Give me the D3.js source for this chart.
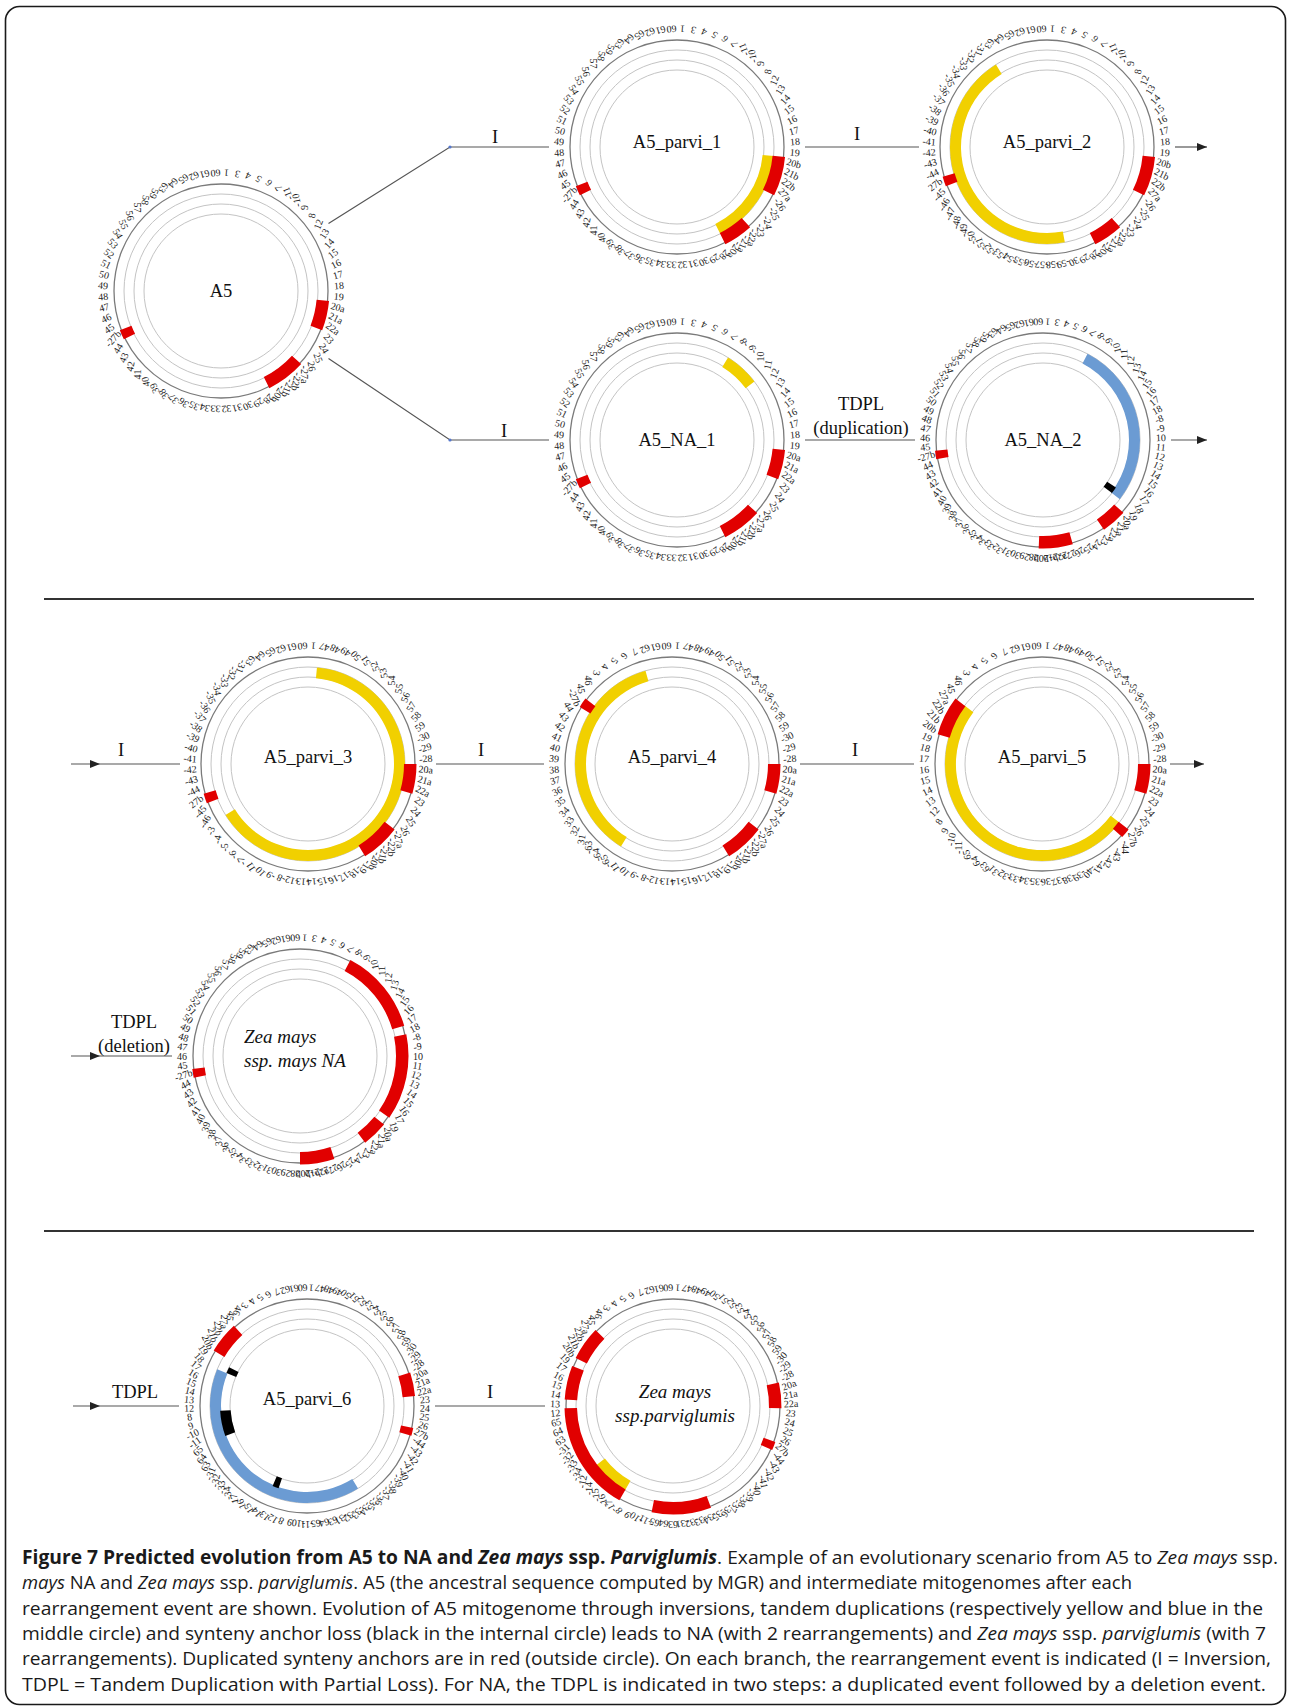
<!DOCTYPE html>
<html><head><meta charset="utf-8">
<script src="https://cdn.jsdelivr.net/npm/d3@7"></script>
<style>
html,body{margin:0;padding:0;background:#fff;}
svg{display:block;}
</style></head><body>
<svg id="fig" width="1290" height="1707"></svg>
<script>
// ---- Synteny anchor order of each mitogenome, clockwise from the top ----
const A5_LABELS = ["1","3","4","5","6","7","-11","-10","9","8","12","13","14","15","16","17","18","19","20a","21a","22a","23","24","25","26","-27a","-22b","-21b","-20b","28","29","30","31","32","33","34","35","36","37","38","39","40","41","42","43","44","-27b","45","46","47","48","49","50","51","52","53","54","55","56","57","58","59","63","64","65","62","61","60"];
const PARVI1_LABELS = ["1","3","4","5","6","7","-11","-10","9","8","12","13","14","15","16","17","18","19","20b","21b","22b","27a","-26","-25","-24","-23","-22a","-21a","-20a","28","29","30","31","32","33","34","35","36","37","38","39","40","41","42","43","44","-27b","45","46","47","48","49","50","51","52","53","54","55","56","57","58","59","63","64","65","62","61","60"];
const PARVI2_LABELS = ["1","3","4","5","6","7","-11","-10","9","8","12","13","14","15","16","17","18","19","20b","21b","22b","27a","-26","-25","-24","-23","-22a","-21a","-20a","28","29","30","-59","-58","-57","-56","-55","-54","-53","-52","-51","-50","-49","-48","-47","-46","-45","27b","-44","-43","-42","-41","-40","-39","-38","-37","-36","-35","-34","-33","-32","-31","63","64","65","62","61","60"];
const PARVI3_LABELS = ["1","47","48","49","50","51","52","53","54","55","56","57","58","59","-30","-29","-28","20a","21a","22a","23","24","25","26","-27a","-22b","-21b","-20b","-19","-18","-17","-16","-15","-14","-13","-12","-8","-9","10","11","-7","-6","-5","-4","-3","-46","-45","27b","-44","-43","-42","-41","-40","-39","-38","-37","-36","-35","-34","-33","-32","-31","63","64","65","62","61","60"];
const PARVI4_LABELS = ["1","47","48","49","50","51","52","53","54","55","56","57","58","59","-30","-29","-28","20a","21a","22a","23","24","25","26","-27a","-22b","-21b","-20b","-19","-18","-17","-16","-15","-14","-13","-12","-8","-9","10","11","-65","-64","-63","31","32","33","34","35","36","37","38","39","40","41","42","43","44","-27b","45","46","3","4","5","6","7","62","61","60"];
const PARVI5_LABELS = ["1","47","48","49","50","51","52","53","54","55","56","57","58","59","-30","-29","-28","20a","21a","22a","23","24","25","26","27b","-44","-43","-42","-41","-40","-39","-38","-37","-36","-35","-34","-33","-32","-31","63","64","65","-11","-10","9","8","12","13","14","15","16","17","18","19","20b","21b","22b","27a","45","46","3","4","5","6","7","62","61","60"];
const PARVI6_LABELS = ["1","47","48","49","50","51","52","53","54","55","56","57","58","59","-30","-29","-28","20a","21a","22a","23","24","25","26","27b","-44","-43","-42","-41","-40","-39","-38","-37","-36","-35","-34","-33","-32","-31","63","64","65","-11","-10","9","8","12","13","14","15","16","17","-34","-33","-32","-31","63","64","65","-11","-10","9","8","12","13","14","15","16","17","18","19","20b","21b","22b","27a","45","46","3","4","5","6","7","62","61","60"];
const ZEA_PARV_LABELS = ["1","47","48","49","50","51","52","53","54","55","56","57","58","59","-30","-29","-28","20a","21a","22a","23","24","25","26","27b","-44","-43","-42","-41","-40","-39","-38","-37","-36","-35","-34","-33","-32","-31","63","64","65","-11","-10","9","8","-17","-16","-15","-14","-12","-34","-33","-32","-31","63","64","65","12","13","14","15","16","17","19","20b","21b","22b","27a","45","46","3","4","5","6","7","62","61","60"];
const NA1_LABELS = ["1","3","4","5","6","7","-8","-9","10","11","12","13","14","15","16","17","18","19","20a","21a","22a","23","24","25","26","-27a","-22b","-21b","-20b","28","29","30","31","32","33","34","35","36","37","38","39","40","41","42","43","44","-27b","45","46","47","48","49","50","51","52","53","54","55","56","57","58","59","63","64","65","62","61","60"];
const NA2_LABELS = ["1","3","4","5","6","7","-8","-9","10","11","12","13","14","15","16","17","18","-8","-9","10","11","12","13","14","15","16","17","18","19","20a","21a","22a","23","24","25","26","-27a","-22b","-21b","-20b","28","29","30","31","32","33","34","35","36","37","38","39","40","41","42","43","44","-27b","45","46","47","48","49","50","51","52","53","54","55","56","57","58","59","63","64","65","62","61","60"];
const ZEA_NA_LABELS = ["1","3","4","5","6","7","-8","-9","10","11","12","13","14","15","16","17","18","-8","-9","10","11","12","13","14","15","16","17","19","20a","21a","22a","23","24","25","26","-27a","-22b","-21b","-20b","28","29","30","31","32","33","34","35","36","37","38","39","40","41","42","43","44","-27b","45","46","47","48","49","50","51","52","53","54","55","56","57","58","59","63","64","65","62","61","60"];

// ---- Highlighted runs of anchors, as [first index, last index] ----
// outer track: duplicated anchors
const A5_DUP = [[18,20],[25,28],[46,46]];
const PARVI1_DUP = [[18,21],[26,28],[46,46]];
const PARVI2_DUP = [[18,21],[26,28],[47,47]];
const PARVI3_DUP = [[17,19],[24,27],[47,47]];
const PARVI4_DUP = [[17,19],[24,27],[57,57]];
const PARVI5_DUP = [[17,19],[24,24],[54,57]];
const PARVI6_DUP = [[17,19],[24,24],[71,74]];
const ZEA_PARV_DUP = [[17,19],[24,24],[35,41],[46,58],[60,63],[65,68]];
const NA1_DUP = [[18,20],[25,28],[46,46]];
const NA2_DUP = [[29,31],[36,39],[57,57]];
const ZEA_NA_DUP = [[6,15],[17,26],[28,30],[35,38],[56,56]];
// middle track: inversions (yellow) and tandem duplications (blue)
const PARVI1_INV = [[18,28]];
const PARVI2_INV = [[32,61]];
const PARVI3_INV = [[1,44]];
const PARVI4_INV = [[40,64]];
const PARVI5_INV = [[24,57]];
const ZEA_PARV_INV = [[46,50]];
const NA1_INV = [[6,9]];
const PARVI6_TD = [[35,68]];
const NA2_TD = [[6,27]];
// inner track: lost anchors
const PARVI6_LOSS = [[47,47],[59,62],[69,69]];
const NA2_LOSS = [[27,27]];

const RED = "#e10000", YELLOW = "#f1d000", BLUE = "#6b9bd3";

const genomes = [
  {name:["A5"], labels:A5_LABELS, dup:A5_DUP, mid:[], midColor:YELLOW, loss:[], cx:221, cy:291, ny:0},
  {name:["A5_parvi_1"], labels:PARVI1_LABELS, dup:PARVI1_DUP, mid:PARVI1_INV, midColor:YELLOW, loss:[], cx:677, cy:147, ny:-5},
  {name:["A5_parvi_2"], labels:PARVI2_LABELS, dup:PARVI2_DUP, mid:PARVI2_INV, midColor:YELLOW, loss:[], cx:1047, cy:147, ny:-5},
  {name:["A5_NA_1"], labels:NA1_LABELS, dup:NA1_DUP, mid:NA1_INV, midColor:YELLOW, loss:[], cx:677, cy:440, ny:0},
  {name:["A5_NA_2"], labels:NA2_LABELS, dup:NA2_DUP, mid:NA2_TD, midColor:BLUE, loss:NA2_LOSS, cx:1043, cy:440, ny:0},
  {name:["A5_parvi_3"], labels:PARVI3_LABELS, dup:PARVI3_DUP, mid:PARVI3_INV, midColor:YELLOW, loss:[], cx:308, cy:764, ny:-7},
  {name:["A5_parvi_4"], labels:PARVI4_LABELS, dup:PARVI4_DUP, mid:PARVI4_INV, midColor:YELLOW, loss:[], cx:672, cy:764, ny:-7},
  {name:["A5_parvi_5"], labels:PARVI5_LABELS, dup:PARVI5_DUP, mid:PARVI5_INV, midColor:YELLOW, loss:[], cx:1042, cy:764, ny:-7},
  {name:["Zea mays","ssp. mays NA"], italic:true, align:"start", nx:-56, labels:ZEA_NA_LABELS, dup:ZEA_NA_DUP, mid:[], midColor:YELLOW, loss:[], cx:300, cy:1056, ny:-7},
  {name:["A5_parvi_6"], labels:PARVI6_LABELS, dup:PARVI6_DUP, mid:PARVI6_TD, midColor:BLUE, loss:PARVI6_LOSS, cx:307, cy:1406, ny:-7},
  {name:["Zea mays","ssp.parviglumis"], italic:true, nx:2, labels:ZEA_PARV_LABELS, dup:ZEA_PARV_DUP, mid:ZEA_PARV_INV, midColor:YELLOW, loss:[], cx:673, cy:1406, ny:-2}
];

// ---- Rearrangement events between genomes ----
const EVENTS = [
  {pts:[[328.5,223.4],[450,147],[549,147]], text:["I"], tx:495, ty:137, dot:true},
  {pts:[[328.5,358.6],[450,440],[549,440]], text:["I"], tx:504, ty:431, dot:true},
  {pts:[[805,147],[919,147]], text:["I"], tx:857, ty:134},
  {pts:[[1175,147],[1207,147]], arrowAt:1207},
  {pts:[[805,440],[915,440]], text:["TDPL","(duplication)"], tx:861, ty:404},
  {pts:[[1171,440],[1207,440]], arrowAt:1207},
  {pts:[[71,764],[180,764]], arrowAt:100, text:["I"], tx:121, ty:750},
  {pts:[[436,764],[544,764]], text:["I"], tx:481, ty:750},
  {pts:[[800,764],[914,764]], text:["I"], tx:855, ty:750},
  {pts:[[1170,764],[1204,764]], arrowAt:1204},
  {pts:[[71,1056],[172,1056]], arrowAt:100, text:["TDPL","(deletion)"], tx:134, ty:1022},
  {pts:[[73,1406],[179,1406]], arrowAt:100, text:["TDPL"], tx:135, ty:1392},
  {pts:[[435,1406],[545,1406]], text:["I"], tx:490, ty:1392}
];

const CAPTION_LINES = [
  [["Figure 7 Predicted evolution from A5 to NA and ","b"],["Zea mays","bi"],[" ssp. ","b"],["Parviglumis","bi"],[". Example of an evolutionary scenario from A5 to ",""],["Zea mays","i"],[" ssp.",""]],
  [["mays","i"],[" NA and ",""],["Zea mays","i"],[" ssp. ",""],["parviglumis","i"],[". A5 (the ancestral sequence computed by MGR) and intermediate mitogenomes after each",""]],
  [["rearrangement event are shown. Evolution of A5 mitogenome through inversions, tandem duplications (respectively yellow and blue in the",""]],
  [["middle circle) and synteny anchor loss (black in the internal circle) leads to NA (with 2 rearrangements) and ",""],["Zea mays","i"],[" ssp. ",""],["parviglumis","i"],[" (with 7",""]],
  [["rearrangements). Duplicated synteny anchors are in red (outside circle). On each branch, the rearrangement event is indicated (I = Inversion,",""]],
  [["TDPL = Tandem Duplication with Partial Loss). For NA, the TDPL is indicated in two steps: a duplicated event followed by a deletion event.",""]]
];
const CAPTION_WIDTHS = [1256, 1110, 1241, 1244, 1249, 1244];

// ---- Drawing ----
const svg = d3.select("#fig");
svg.append("rect").attr("width",1290).attr("height",1707).attr("fill","#fff");
svg.append("rect").attr("x",5.5).attr("y",6.5).attr("width",1280).attr("height",1698)
  .attr("rx",14).attr("fill","none").attr("stroke","#1a1a1a").attr("stroke-width",1.6);

// section separators
[599, 1231].forEach(y => svg.append("line").attr("x1",44).attr("x2",1254).attr("y1",y).attr("y2",y)
  .attr("stroke","#333").attr("stroke-width",2));

const SERIF = "'Liberation Serif','Times New Roman',serif";
const R = {outer:107, rings:[97,87,77], dup:[96,108.5], mid:[86,97], loss:[76.5,87], label:118};
const arcGen = d3.arc();

genomes.forEach(g => {
  const N = g.labels.length;
  const ang = d3.scaleLinear().domain([0, N]).range([0, 2 * Math.PI]);
  const G = svg.append("g").attr("transform", `translate(${g.cx},${g.cy})`);

  G.selectAll("circle.ring").data(R.rings).join("circle").attr("class","ring")
    .attr("r", d => d).attr("fill","none").attr("stroke","#c4c4c4").attr("stroke-width",1);
  G.append("circle").attr("r", R.outer).attr("fill","none").attr("stroke","#7a7a7a").attr("stroke-width",1.3);

  const track = (runs, radii, color) => G.append("g").selectAll("path").data(runs).join("path")
    .attr("d", d => arcGen({innerRadius: radii[0], outerRadius: radii[1],
                            startAngle: ang(d[0]), endAngle: ang(d[1] + 1)}))
    .attr("fill", color);
  track(g.mid, R.mid, g.midColor);
  track(g.loss, R.loss, "#000");
  track(g.dup, R.dup, RED);

  G.append("g").selectAll("text").data(g.labels).join("text")
    .attr("transform", (d, i) => {
      const a = ang(i + 0.5), deg = a * 180 / Math.PI;
      return `translate(${R.label * Math.sin(a)},${-R.label * Math.cos(a)}) rotate(${2 * deg + 180})`;
    })
    .attr("text-anchor","middle").attr("dominant-baseline","central")
    .style("font-family", SERIF).style("font-size","10px").attr("fill","#222")
    .text(d => d);

  const nm = G.append("text").attr("text-anchor", g.align || "middle")
    .style("font-family", SERIF).style("font-size", g.italic ? "19px" : "18.5px")
    .style("font-style", g.italic ? "italic" : "normal")
    .attr("fill","#111");
  const lh = 24;
  g.name.forEach((t, k) => nm.append("tspan").attr("x", g.nx || 0)
    .attr("y", (k - (g.name.length - 1) / 2) * lh + 6 + g.ny).text(t));
});

// connectors
const line = d3.line();
EVENTS.forEach(ev => {
  svg.append("path").attr("d", line(ev.pts)).attr("fill","none").attr("stroke","#555").attr("stroke-width",1.2);
  if (ev.dot) svg.append("circle").attr("cx", ev.pts[1][0]).attr("cy", ev.pts[1][1]).attr("r",1.6).attr("fill","#5577cc");
  if (ev.arrowAt) {
    const y = ev.pts[0][1], x = ev.arrowAt;
    svg.append("path").attr("d", `M${x},${y} L${x-10},${y-4} L${x-10},${y+4} Z`).attr("fill","#222");
  }
  if (ev.text) {
    const t = svg.append("text").attr("text-anchor","middle").style("font-family", SERIF)
      .style("font-size","18.5px").attr("fill","#111");
    ev.text.forEach((s, k) => t.append("tspan").attr("x", ev.tx).attr("y", ev.ty + 6 + k * 24).text(s));
  }
});

// caption
const CAP_FONT = "'Open Sans','Liberation Sans Narrow',sans-serif";
CAPTION_LINES.forEach((parts, k) => {
  const t = svg.append("text").attr("x", 22).attr("y", 1564 + k * 25.3)
    .attr("textLength", CAPTION_WIDTHS[k]).attr("lengthAdjust","spacingAndGlyphs")
    .style("font-family", CAP_FONT).style("font-size","19px").attr("fill","#1a1a1a");
  parts.forEach(([s, st]) => t.append("tspan")
    .style("font-weight", st.includes("b") ? "bold" : "normal")
    .style("font-style", st.includes("i") ? "italic" : "normal")
    .text(s));
});
</script>
</body></html>
